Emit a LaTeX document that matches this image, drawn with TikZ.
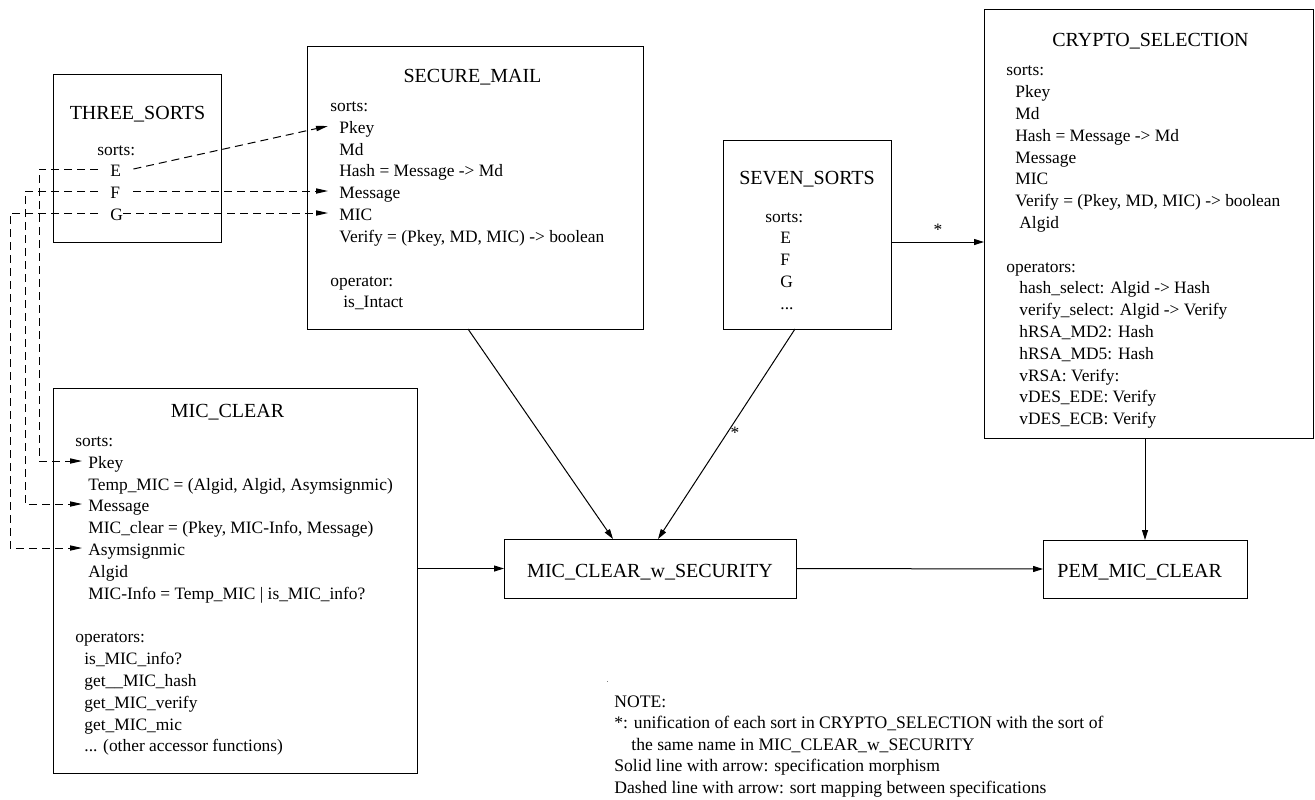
\documentclass[tikz,border=0pt]{standalone}
\usepackage{fontspec}
\setmainfont{Liberation Serif}
\usetikzlibrary{arrows.meta}
\newcommand\bodysize{\fontsize{8.7pt}{10.9pt}\selectfont}
\newcommand\titlesize{\fontsize{10pt}{12pt}\selectfont}
\newcommand\notesize{\fontsize{8.8pt}{11pt}\selectfont}

\begin{document}
\begin{tikzpicture}[x=0.5pt,y=-0.5pt,
  specbox/.style={draw, line width=0.5pt, inner sep=0pt, outer sep=0pt, anchor=north west},
  ttl/.style={font=\titlesize, inner sep=0pt, anchor=base},
  itm/.style={font=\bodysize, inner sep=0pt, anchor=base west},
  notetext/.style={font=\notesize, inner sep=0pt, anchor=base west},
  morph/.style={line width=0.5pt, -{Triangle[length=5pt,width=3pt]}},
  sortmap/.style={line width=0.5pt, dash pattern=on 4pt off 2.5pt, -{Triangle[length=6pt,width=2.6pt]}},
  ]
\useasboundingbox (0,0) rectangle (1315,799);

% ---------- THREE_SORTS ----------
\node[specbox, minimum width=84pt, minimum height=84pt] (three) at (53,74) {};
\node[ttl] (threeT) at (137.5,119) {THREE\_SORTS};
\node[itm] (threeS) at (97,155) {sorts:};
\node[itm] (tsE) at (110,176) {E};
\node[itm] (tsF) at (110,198) {F};
\node[itm] (tsG) at (110,220) {G};

% ---------- SECURE_MAIL ----------
\node[specbox, minimum width=168pt, minimum height=141.5pt] (secmail) at (307,46) {};
\node[ttl] (smT) at (472.5,82) {SECURE\_MAIL};
\node[itm] (smS) at (330,111) {sorts:};
\node[itm] (smPkey) at (339,133) {Pkey};
\node[itm] (smMd) at (339,155) {Md};
\node[itm] (smHash) at (339,176) {Hash = Message -> Md};
\node[itm] (smMsg) at (339,198) {Message};
\node[itm] (smMIC) at (339,220) {MIC};
\node[itm] (smVer) at (339,242) {Verify = (Pkey, MD, MIC) -> boolean};
\node[itm] (smOp) at (330,286) {operator:};
\node[itm] (smInt) at (343,307) {is\_Intact};

% ---------- SEVEN_SORTS ----------
\node[specbox, minimum width=84pt, minimum height=94.5pt] (seven) at (723,140) {};
\node[ttl] (svT) at (807,184) {SEVEN\_SORTS};
\node[itm] (svS) at (765,222) {sorts:};
\node[itm] (svE) at (780,243) {E};
\node[itm] (svF) at (780,265) {F};
\node[itm] (svG) at (780,287) {G};
\node[itm] (svD) at (780,309) {...};

% ---------- CRYPTO_SELECTION ----------
\node[specbox, minimum width=164.5pt, minimum height=214.5pt] (crypto) at (984,9) {};
\node[ttl] (csT) at (1150.5,46) {CRYPTO\_SELECTION};
\node[itm] (csS) at (1006,75) {sorts:};
\node[itm] (cs1) at (1015,97) {Pkey};
\node[itm] (cs2) at (1015,119) {Md};
\node[itm] (cs3) at (1015,141) {Hash = Message -> Md};
\node[itm] (cs4) at (1015,163) {Message};
\node[itm] (cs5) at (1015,184) {MIC};
\node[itm] (cs6) at (1015,206) {Verify = (Pkey, MD, MIC) -> boolean};
\node[itm] (cs7) at (1019,228) {Algid};
\node[itm] (csO) at (1006,272) {operators:};
\node[itm] (co1) at (1019,293) {hash\_select: Algid -> Hash};
\node[itm] (co2) at (1019,315) {verify\_select: Algid -> Verify};
\node[itm] (co3) at (1019,337) {hRSA\_MD2: Hash};
\node[itm] (co4) at (1019,359) {hRSA\_MD5: Hash};
\node[itm] (co5) at (1019,381) {vRSA: Verify:};
\node[itm] (co6) at (1019,402) {vDES\_EDE: Verify};
\node[itm] (co7) at (1019,424) {vDES\_ECB: Verify};

% ---------- MIC_CLEAR ----------
\node[specbox, minimum width=182pt, minimum height=192.5pt] (micclear) at (53,388) {};
\node[ttl] (mcT) at (227.5,417) {MIC\_CLEAR};
\node[itm] (mcS) at (75,446) {sorts:};
\node[itm] (mcPkey) at (88,468) {Pkey};
\node[itm] (mcTemp) at (88,490) {Temp\_MIC = (Algid, Algid, Asymsignmic)};
\node[itm] (mcMsg) at (88,511) {Message};
\node[itm] (mcClr) at (88,533) {MIC\_clear = (Pkey, MIC-Info, Message)};
\node[itm] (mcAsym) at (88,555) {Asymsignmic};
\node[itm] (mcAlg) at (88,577) {Algid};
\node[itm] (mcInfo) at (88,599) {MIC-Info = Temp\_MIC | is\_MIC\_info?};
\node[itm] (mcOp) at (75,642) {operators:};
\node[itm] (mo1) at (84,664) {is\_MIC\_info?};
\node[itm] (mo2) at (84,686) {get\_\_MIC\_hash};
\node[itm] (mo3) at (84,708) {get\_MIC\_verify};
\node[itm] (mo4) at (84,730) {get\_MIC\_mic};
\node[itm] (mo5) at (84,751) {... (other accessor functions)};

% ---------- combined specifications ----------
\node[specbox, minimum width=146pt, minimum height=29.5pt] (wsec) at (504,539) {};
\node[ttl] (wsecT) at (650,577) {MIC\_CLEAR\_w\_SECURITY};
\node[specbox, minimum width=102pt, minimum height=29pt] (pem) at (1043,540) {};
\node[ttl, anchor=base west] (pemT) at (1057,577) {PEM\_MIC\_CLEAR};

% ---------- specification morphisms ----------
\draw[morph] ([xshift=-3.5pt]secmail.south) -- ([xshift=-18.5pt]wsec.north);
\draw[morph] ([xshift=-6pt]seven.south) -- ([xshift=4pt]wsec.north);
\draw[morph] ([yshift=-3.75pt]seven.east) -- ([yshift=-3.75pt]seven.east -| crypto.west);
\draw[morph] (pem.north |- crypto.south) -- (pem.north);
\draw[morph] (wsec.west -| micclear.east) -- (wsec.west);
\draw[morph] (wsec.east) -- (pem.west);
\node[itm, anchor=base] (starA) at (938,235) {*};
\node[itm, anchor=base] (starB) at (735,438) {*};

% ---------- sort mappings ----------
\coordinate (colE) at (39,0);
\coordinate (colF) at (25,0);
\coordinate (colG) at (10,0);
\draw[sortmap] ([xshift=6pt,yshift=3.5pt]tsE.base east) -- ([xshift=-5.5pt,yshift=3.5pt]smPkey.base west);
\draw[sortmap] ([xshift=6.5pt,yshift=3.5pt]tsF.base east) -- ([xshift=-5.5pt,yshift=3.5pt]smMsg.base west);
\draw[sortmap] ([yshift=3.5pt]tsG.base east) -- ([xshift=-5.5pt,yshift=3.5pt]smMIC.base west);
\draw[sortmap] ([xshift=-6pt,yshift=3.5pt]tsE.base west) -| ([yshift=3.5pt]colE |- mcPkey.base) -- ([xshift=-3pt,yshift=3.5pt]mcPkey.base west);
\draw[sortmap] ([xshift=-6pt,yshift=3.5pt]tsF.base west) -| ([yshift=3.5pt]colF |- mcMsg.base) -- ([xshift=-3pt,yshift=3.5pt]mcMsg.base west);
\draw[sortmap] ([xshift=-6pt,yshift=3.5pt]tsG.base west) -| ([yshift=3.5pt]colG |- mcAsym.base) -- ([xshift=-3pt,yshift=3.5pt]mcAsym.base west);

% ---------- note ----------
\fill[gray] (606.5,680.5) rectangle (608,681.5);
\node[notetext] (n1) at (614,707) {NOTE:};
\node[notetext] (n2) at (614,728.5) {*: unification of each sort in CRYPTO\_SELECTION with the sort of};
\node[notetext] (n3) at (631,750) {the same name in MIC\_CLEAR\_w\_SECURITY};
\node[notetext] (n4) at (614,771.5) {Solid line with arrow: specification morphism};
\node[notetext] (n5) at (614,793) {Dashed line with arrow: sort mapping between specifications};
\end{tikzpicture}
\end{document}
